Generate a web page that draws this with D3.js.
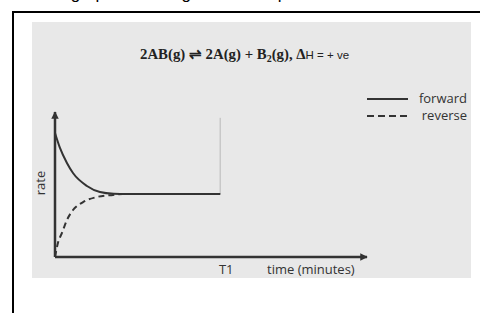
<!DOCTYPE html>
<html>
<head>
<meta charset="utf-8">
<script src="https://cdn.jsdelivr.net/npm/d3@7"></script>
<style>
  body { margin: 0; background: #fff; }
  svg { display: block; }
</style>
</head>
<body>
<svg id="chart" width="480" height="313"></svg>
<script>

// data (time in arbitrary units, rate in arbitrary units)
var fwd_time = [0, 0.27, 0.65, 0.98, 1.74, 2.45, 3.2, 3.9, 9]
var fwd_rate = [8.55, 7.52, 6.48, 5.79, 4.9, 4.48, 4.36, 4.34, 4.34]
var rev_time = [0, 0.16, 0.38, 0.65, 0.98, 1.53, 2.29, 3.16, 3.7, 9]
var rev_rate = [0, 0.97, 1.66, 2.55, 3.24, 3.79, 4.14, 4.28, 4.34, 4.34]
var t1 = 9
var t1_top = 9.6
var legend_labels = ["forward", "reverse"]

var svg = d3.select("#chart")

// page frame and grey panel (the line of text above is cut off in the source)
svg.append("text")
  .attr("x", 0).attr("y", -1)
  .style("font-family", "Liberation Sans")
  .style("font-size", "17px")
  .style("fill", "#000")
  .text("Sketch a graph of rate against time up to T1 for the reaction below")

svg.append("line").attr("x1", 12).attr("x2", 480).attr("y1", 12).attr("y2", 12)
  .style("stroke", "#000").style("stroke-width", 2)
svg.append("line").attr("x1", 13).attr("x2", 13).attr("y1", 11).attr("y2", 313)
  .style("stroke", "#000").style("stroke-width", 2)

svg.append("rect").attr("x", 32).attr("y", 22).attr("width", 439).attr("height", 256)
  .style("fill", "#e8e8e8")

var x = d3.scaleLinear().domain([0, 17]).range([55, 367])
var y = d3.scaleLinear().domain([0, 10]).range([257, 112])

var ink = "#333"

// arrow marker
var defs = svg.append("defs")
defs.append("marker")
  .attr("id", "arrow")
  .attr("viewBox", "0 0 10 10")
  .attr("refX", 9).attr("refY", 5)
  .attr("markerWidth", 3).attr("markerHeight", 3)
  .attr("orient", "auto")
  .append("path")
    .attr("d", "M0,0 L10,5 L0,10 z")
    .style("fill", ink)

// axes
svg.append("line")
  .attr("x1", x(0)).attr("y1", y(0)).attr("x2", x(17)).attr("y2", y(0))
  .style("stroke", ink).style("stroke-width", 2.5)
  .attr("marker-end", "url(#arrow)")
svg.append("line")
  .attr("x1", x(0)).attr("y1", y(0)).attr("x2", x(0)).attr("y2", y(10))
  .style("stroke", ink).style("stroke-width", 2.5)
  .attr("marker-end", "url(#arrow)")

// thin marker at T1
svg.append("line")
  .attr("x1", x(t1)).attr("x2", x(t1))
  .attr("y1", y(t1_top)).attr("y2", y(fwd_rate[fwd_rate.length - 1]))
  .style("stroke", "#b8b8b8").style("stroke-width", 1)

var line = d3.line()
  .x(function(d){ return x(d[0]); })
  .y(function(d){ return y(d[1]); })
  .curve(d3.curveMonotoneX)

svg.append("path")
  .datum(d3.zip(fwd_time, fwd_rate))
  .attr("d", line)
  .style("fill", "none").style("stroke", ink).style("stroke-width", 2)

svg.append("path")
  .datum(d3.zip(rev_time, rev_rate))
  .attr("d", line)
  .style("fill", "none").style("stroke", ink).style("stroke-width", 2)
  .style("stroke-dasharray", "6,4")

// axis labels
svg.append("text")
  .attr("transform", "translate(45," + 183 + ") rotate(-90)")
  .attr("text-anchor", "middle")
  .style("font-family", "Open Sans").style("font-size", "13px").style("fill", ink)
  .text("rate")

svg.append("text")
  .attr("x", x(t1) + 6).attr("y", 274)
  .attr("text-anchor", "middle")
  .style("font-family", "Open Sans").style("font-size", "13px").style("fill", ink)
  .text("T1")

svg.append("text")
  .attr("x", 267).attr("y", 274)
  .style("font-family", "Open Sans").style("font-size", "13px").style("fill", ink)
  .text("time (minutes)")

// title
var title = svg.append("text")
  .attr("x", 140).attr("y", 59)
  .style("fill", "#222")
title.append("tspan")
  .style("font-family", "Liberation Serif").style("font-size", "14.8px").style("font-weight", "bold")
  .text("2AB(g) \u21CC 2A(g) + B")
title.append("tspan")
  .attr("dy", 3)
  .style("font-family", "Liberation Serif").style("font-size", "10px").style("font-weight", "bold")
  .text("2")
title.append("tspan")
  .attr("dy", -3)
  .style("font-family", "Liberation Serif").style("font-size", "14.8px").style("font-weight", "bold")
  .text("(g), \u0394")
title.append("tspan")
  .style("font-family", "Liberation Sans").style("font-size", "11.5px")
  .text("H = + ve")

// legend
var legend = svg.selectAll(".legend").data(legend_labels).enter().append("g")
  .attr("class", "legend")
  .attr("transform", function(d, i){ return "translate(0," + (99 + i * 17) + ")"; })
legend.append("line")
  .attr("x1", 367).attr("x2", 408)
  .style("stroke", ink).style("stroke-width", 2)
  .style("stroke-dasharray", function(d, i){ return i == 1 ? "7,4" : null; })
legend.append("text")
  .attr("x", 467).attr("y", 4)
  .attr("text-anchor", "end")
  .style("font-family", "Open Sans").style("font-size", "13px").style("fill", ink)
  .text(function(d){ return d; })

</script>
</body>
</html>
